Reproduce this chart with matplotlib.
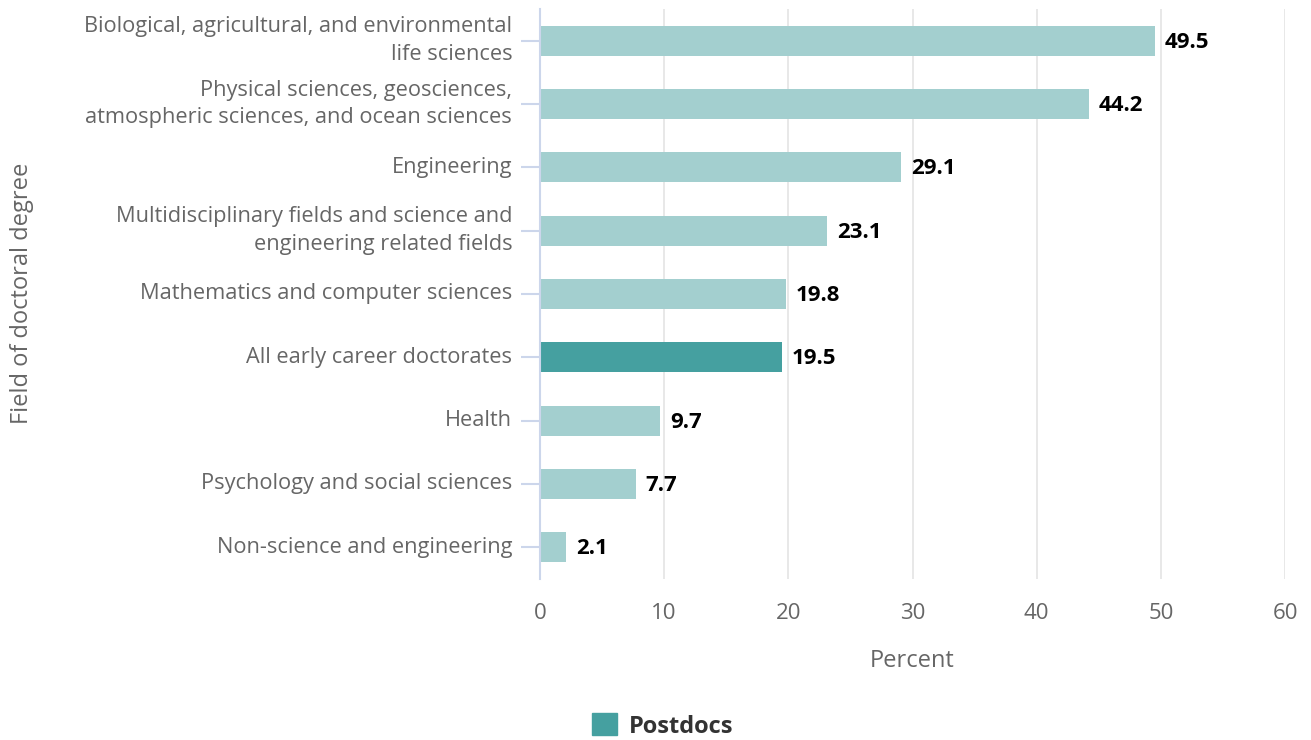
import numpy as np
import matplotlib.pyplot as plt
import matplotlib.transforms as mtransforms
from matplotlib.patches import Patch

plt.rcParams['font.family'] = ['Open Sans', 'DejaVu Sans']

fields = ['Biological, agricultural, and environmental\nlife sciences',
          'Physical sciences, geosciences,\natmospheric sciences, and ocean sciences',
          'Engineering',
          'Multidisciplinary fields and science and\nengineering related fields',
          'Mathematics and computer sciences',
          'All early career doctorates',
          'Health',
          'Psychology and social sciences',
          'Non-science and engineering']
postdocs = [49.5, 44.2, 29.1, 23.1, 19.8, 19.5, 9.7, 7.7, 2.1]
highlight = 'All early career doctorates'
xticks = [0, 10, 20, 30, 40, 50, 60]

light, dark = '#a3cfcf', '#45a0a0'
colors = [dark if f == highlight else light for f in fields]

fig = plt.figure(figsize=(13.11, 7.40), dpi=100)
ax = fig.add_axes([540/1311, 1-579/740, 745/1311, 570/740])

y = np.arange(len(fields))
bars = ax.barh(y, postdocs, height=0.47, color=colors, zorder=3)
down = mtransforms.ScaledTranslation(0, -1.5/100, fig.dpi_scale_trans)
for yi, v in zip(y, postdocs):
    ax.text(v + 0.8, yi, '%.1f' % v, va='center', ha='left',
            fontsize=16, fontweight='bold', color='black', zorder=4,
            transform=ax.transData + down)

ax.set_ylim(len(fields) - 0.5, -0.5)
ax.set_xlim(0, 60)
ax.set_yticks(y)
ax.set_yticklabels(fields, fontsize=15.7, color='#666666', linespacing=1.42,
                   va='center')
ax.set_xticks(xticks)
ax.set_xticklabels([str(t) for t in xticks], fontsize=16, color='#666666')
ax.tick_params(axis='y', length=14, width=1.5, color='#ccd6eb', pad=6)
ax.tick_params(axis='x', length=0, pad=17)
ax.grid(axis='x', color='#e6e6e6', linewidth=1.3, zorder=0)
for s in ['top', 'right', 'bottom']:
    ax.spines[s].set_visible(False)
ax.spines['left'].set_color('#ccd6eb')
ax.spines['left'].set_linewidth(1.5)
ax.spines['left'].set_zorder(5)

ax.set_xlabel('Percent', fontsize=17, color='#666666', labelpad=18)
fig.text(22/1311, 1-293/740, 'Field of doctoral degree', rotation=90,
         ha='center', va='center', fontsize=17, color='#666666')

fig.legend(handles=[Patch(color=dark, label='Postdocs')], loc='center',
           bbox_to_anchor=(0.5057, 1-726/740), frameon=False, handlelength=1.05,
           handleheight=1.05, handletextpad=0.5,
           prop={'size': 17, 'weight': 'bold'}, labelcolor='#333333')

fig.savefig('out.png', dpi=100)
